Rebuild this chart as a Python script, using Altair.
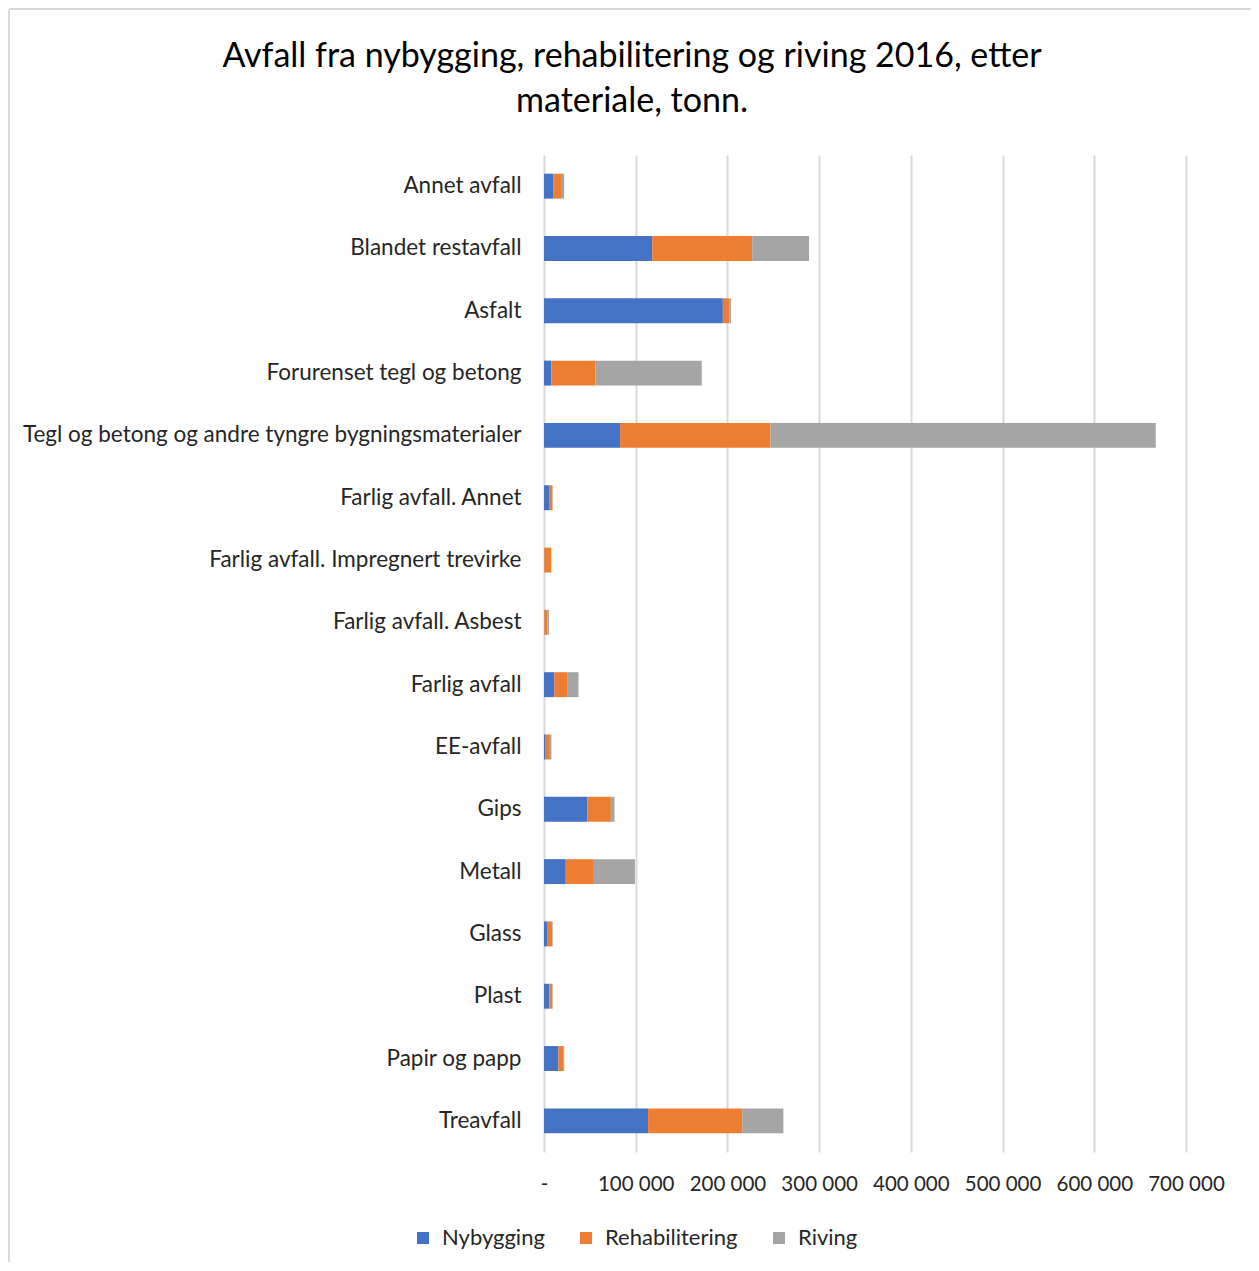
import altair as alt
import pandas as pd

categories = [
    "Annet avfall",
    "Blandet restavfall",
    "Asfalt",
    "Forurenset tegl og betong",
    "Tegl og betong og andre tyngre bygningsmaterialer",
    "Farlig avfall. Annet",
    "Farlig avfall. Impregnert trevirke",
    "Farlig avfall. Asbest",
    "Farlig avfall",
    "EE-avfall",
    "Gips",
    "Metall",
    "Glass",
    "Plast",
    "Papir og papp",
    "Treavfall",
]
nybygging = [10000, 118000, 195000, 8000, 83000, 5500, 300, 300, 11300, 1100, 47400, 23700, 4000, 5800, 15700, 113500]
rehabilitering = [9500, 109000, 7000, 48000, 164000, 3600, 7500, 3300, 13900, 4400, 25500, 30700, 5100, 3300, 5800, 102600]
riving = [2500, 62000, 2000, 116000, 420000, 500, 200, 1800, 12400, 2600, 4000, 44900, 500, 500, 500, 44900]

series = ["Nybygging", "Rehabilitering", "Riving"]
colors = ["#4472C4", "#ED7D31", "#A5A5A5"]
tick_values = [0, 100000, 200000, 300000, 400000, 500000, 600000, 700000]

rows = []
for i, c in enumerate(categories):
    for j, (s, vals) in enumerate(zip(series, [nybygging, rehabilitering, riving])):
        rows.append({"Materiale": c, "Serie": s, "Tonn": vals[i], "ord": j})
df = pd.DataFrame(rows)

FONT = "Lato"
TXT = "#262626"

bars = alt.Chart(df).mark_bar().encode(
    y=alt.Y("Materiale:N", sort=categories, title=None,
            scale=alt.Scale(paddingInner=0.6, paddingOuter=0.3),
            axis=alt.Axis(domain=False, ticks=False, labelFontSize=22.5, labelColor=TXT,
                          labelFont=FONT, labelPadding=23, labelLimit=700)),
    x=alt.X("Tonn:Q", stack="zero", title=None,
            scale=alt.Scale(domain=[0, 700000], nice=False),
            axis=alt.Axis(values=tick_values, labelOverlap=False, labelFlush=False,
                          domain=False, ticks=False, grid=True, gridColor="#D9D9D9", gridWidth=2,
                          labelFontSize=20.5, labelColor=TXT, labelFont=FONT, labelPadding=22,
                          labelExpr="datum.value == 0 ? '-' : replace(format(datum.value, ','), ',', ' ')")),
    color=alt.Color("Serie:N", scale=alt.Scale(domain=series, range=colors),
                    legend=alt.Legend(title=None, orient="none", direction="horizontal",
                                      legendX=-132, legendY=1072, symbolType="square",
                                      symbolSize=144, labelFontSize=22, labelFont=FONT,
                                      labelColor=TXT, columnPadding=30, labelOffset=8,
                                      symbolStrokeWidth=0)),
    order=alt.Order("ord:Q"),
)

# chart-area frame (left and top edges, as in the reference)
frame_df = pd.DataFrame({"k": [0]})
frame_left = alt.Chart(frame_df).mark_rule(color="#D9D9D9", strokeWidth=2).encode(
    x=alt.value(-535), y=alt.value(-146), y2=alt.value(1120))
frame_top = alt.Chart(frame_df).mark_rule(color="#D9D9D9", strokeWidth=2).encode(
    x=alt.value(-535), x2=alt.value(715), y=alt.value(-146))

chart = alt.layer(bars, frame_left, frame_top).properties(
    width=642,
    height=997,
    autosize=alt.AutoSizeParams(type="none"),
    padding={"left": 536, "top": 147, "right": 65, "bottom": 110},
    title=alt.TitleParams(
        ["Avfall fra nybygging, rehabilitering og riving 2016, etter", "materiale, tonn."],
        fontSize=34, font=FONT, fontWeight="normal", color="#000000",
        anchor="middle", frame="group", dx=-233, lineHeight=45, offset=-111),
).configure_view(stroke=None)

chart.save("out.html", embed_options={"renderer": "svg", "actions": False})
